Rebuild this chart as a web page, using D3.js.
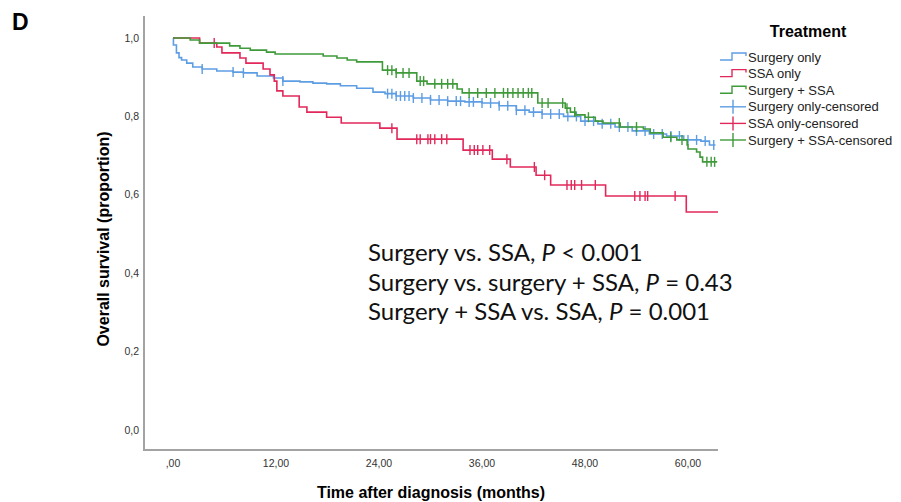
<!DOCTYPE html>
<html>
<head>
<meta charset="utf-8">
<script src="https://cdnjs.cloudflare.com/ajax/libs/d3/7.8.5/d3.min.js"></script>
<style>
  body { margin: 0; background: #fff; }
  svg { display: block; }
</style>
</head>
<body>
<div id="chart"></div>
<script>
// ==========================
// Data
// ==========================

const xTicks = [0, 12, 24, 36, 48, 60];
const xTickLabels = [",00", "12,00", "24,00", "36,00", "48,00", "60,00"];
const yTicks = [0, 0.2, 0.4, 0.6, 0.8, 1.0];
const yTickLabels = ["0,0", "0,2", "0,4", "0,6", "0,8", "1,0"];

// Surgery only
const surgeryTimes = [0, 0.05, 0.4, 0.7, 1.0, 1.6, 2.3, 3.4, 5.1, 7.0, 8.2, 9.8, 11.7, 12.8, 14.8, 16.3, 17.9, 19.5, 21.4, 23.3, 24.7, 26.0, 28.0, 30.0, 32.0, 34.0, 36.0, 38.0, 40.0, 41.5, 43.0, 45.5, 47.5, 49.5, 51.5, 53.5, 55.5, 57.5, 59.5, 61.5, 62.5];
const surgerySurv = [1.0, 0.982, 0.962, 0.950, 0.944, 0.936, 0.926, 0.921, 0.916, 0.913, 0.911, 0.903, 0.898, 0.890, 0.888, 0.885, 0.883, 0.878, 0.872, 0.862, 0.858, 0.852, 0.847, 0.842, 0.839, 0.837, 0.834, 0.827, 0.816, 0.811, 0.806, 0.800, 0.788, 0.781, 0.773, 0.763, 0.755, 0.750, 0.740, 0.737, 0.727];
const surgeryEnd = 63.2;
const surgeryCensor = [3.4, 7.0, 8.2, 12.8, 25.0, 25.5, 26.0, 26.5, 27.0, 27.5, 28.0, 29.0, 30.0, 31.0, 32.0, 33.0, 33.5, 34.5, 35.0, 36.0, 37.0, 38.0, 39.0, 40.0, 41.0, 42.0, 43.0, 44.0, 45.0, 46.0, 47.0, 48.0, 49.0, 50.0, 51.0, 52.0, 53.0, 54.0, 55.0, 56.0, 57.0, 58.0, 59.0, 60.0, 61.0, 62.0, 63.0];

// SSA only
const ssaTimes = [0, 3.1, 5.1, 5.7, 7.8, 8.5, 10.5, 11.3, 11.8, 12.1, 12.8, 14.7, 15.6, 17.9, 19.6, 24.1, 26.1, 33.8, 37.2, 39.3, 42.3, 44.0, 50.4, 59.8];
const ssaSurv = [1.0, 0.987, 0.977, 0.962, 0.949, 0.936, 0.921, 0.906, 0.890, 0.865, 0.852, 0.824, 0.811, 0.798, 0.783, 0.770, 0.742, 0.714, 0.691, 0.671, 0.650, 0.625, 0.597, 0.556];
const ssaEnd = 63.5;
const ssaCensor = [4.8, 25.5, 28.4, 28.8, 29.7, 30.0, 30.5, 31.3, 31.9, 34.6, 35.1, 35.5, 36.1, 36.9, 38.9, 42.1, 43.3, 45.9, 46.4, 46.8, 47.6, 49.2, 53.8, 54.4, 55.0, 55.3, 58.5];

// Surgery + SSA
const comboTimes = [0, 2.0, 3.1, 6.6, 7.8, 9.0, 10.9, 11.9, 17.5, 19.1, 20.3, 21.4, 24.4, 26.0, 28.4, 29.6, 33.1, 33.7, 42.5, 45.7, 46.3, 46.9, 48.0, 49.2, 50.1, 52.1, 54.8, 55.6, 57.1, 58.7, 59.9, 60.0, 61.0, 61.4, 61.7];
const comboSurv = [1.0, 0.995, 0.987, 0.980, 0.974, 0.969, 0.964, 0.959, 0.954, 0.949, 0.944, 0.939, 0.918, 0.911, 0.890, 0.883, 0.870, 0.860, 0.834, 0.821, 0.811, 0.804, 0.798, 0.788, 0.783, 0.773, 0.768, 0.758, 0.747, 0.740, 0.727, 0.717, 0.709, 0.696, 0.684];
const comboEnd = 63.4;
const comboCensor = [25.0, 25.5, 26.0, 26.8, 27.5, 28.8, 29.2, 30.5, 31.3, 32.0, 32.6, 34.5, 35.5, 36.5, 37.5, 38.5, 39.0, 39.6, 40.2, 40.8, 41.4, 41.8, 43.0, 43.7, 45.4, 45.9, 46.8, 48.4, 52.0, 54.0, 58.0, 59.3, 62.2, 62.7, 63.1];

const legendLabels = ["Surgery only", "SSA only", "Surgery + SSA", "Surgery only-censored", "SSA only-censored", "Surgery + SSA-censored"];
const statLines = [
    ["Surgery vs. SSA, ", "P", " < 0.001"],
    ["Surgery vs. surgery + SSA, ", "P", " = 0.43"],
    ["Surgery + SSA vs. SSA, ", "P", " = 0.001"]
];

const groups = [
    { name: "Surgery only", times: surgeryTimes, surv: surgerySurv, end: surgeryEnd, censor: surgeryCensor, color: "#5d9de3" },
    { name: "SSA only", times: ssaTimes, surv: ssaSurv, end: ssaEnd, censor: ssaCensor, color: "#e2285a" },
    { name: "Surgery + SSA", times: comboTimes, surv: comboSurv, end: comboEnd, censor: comboCensor, color: "#3f9a3a" }
];

// ==========================
// SVG Setup
// ==========================

const width = 901;
const height = 502;

const axisX = 144;
const axisY = 450;

const svg = d3.select("#chart").append("svg")
    .attr("width", width)
    .attr("height", height)
    .attr("viewBox", `0 0 ${width} ${height}`);

// ==========================
// Scales
// ==========================

const xScale = d3.scaleLinear()
    .domain([0, 60])
    .range([173, 688]);

const yScale = d3.scaleLinear()
    .domain([0, 1])
    .range([430, 38]);

// ==========================
// Axes (plain lines, no tick marks)
// ==========================

const axisColor = "#a3a3a3";
const labelFont = "Liberation Sans, Arial, sans-serif";

svg.append("line")
    .attr("x1", axisX).attr("x2", axisX)
    .attr("y1", 16).attr("y2", axisY)
    .attr("stroke", axisColor).attr("stroke-width", 2);

svg.append("line")
    .attr("x1", axisX - 1).attr("x2", 718)
    .attr("y1", axisY).attr("y2", axisY)
    .attr("stroke", axisColor).attr("stroke-width", 2);

svg.selectAll(".y-tick")
    .data(yTicks)
    .enter()
    .append("text")
    .attr("class", "y-tick")
    .attr("x", 139)
    .attr("y", d => yScale(d))
    .attr("dy", "0.35em")
    .attr("text-anchor", "end")
    .style("font-family", labelFont)
    .style("font-size", "10.5px")
    .style("fill", "#333")
    .text((d, i) => yTickLabels[i]);

svg.selectAll(".x-tick")
    .data(xTicks)
    .enter()
    .append("text")
    .attr("class", "x-tick")
    .attr("x", d => xScale(d))
    .attr("y", 467)
    .attr("text-anchor", "middle")
    .style("font-family", labelFont)
    .style("font-size", "10.5px")
    .style("fill", "#333")
    .text((d, i) => xTickLabels[i]);

// axis titles
svg.append("text")
    .attr("x", 431)
    .attr("y", 498)
    .attr("text-anchor", "middle")
    .style("font-family", labelFont)
    .style("font-size", "16px")
    .style("font-weight", "bold")
    .text("Time after diagnosis (months)");

svg.append("text")
    .attr("transform", "translate(109,239) rotate(-90)")
    .attr("text-anchor", "middle")
    .style("font-family", labelFont)
    .style("font-size", "16px")
    .style("font-weight", "bold")
    .text("Overall survival (proportion)");

// panel letter
svg.append("text")
    .attr("x", 12)
    .attr("y", 30)
    .style("font-family", labelFont)
    .style("font-size", "23px")
    .style("font-weight", "bold")
    .text("D");

// ==========================
// Survival curves
// ==========================

const line = d3.line()
    .x(d => xScale(d[0]))
    .y(d => yScale(d[1]))
    .curve(d3.curveStepAfter);

function survAt(g, t) {
    let s = g.surv[0];
    g.times.forEach((tt, i) => { if (tt <= t) s = g.surv[i]; });
    return s;
}

groups.forEach(g => {
    const pts = g.times.map((t, i) => [t, g.surv[i]]);
    pts.push([g.end, g.surv[g.surv.length - 1]]);

    svg.append("path")
        .datum(pts)
        .attr("fill", "none")
        .attr("stroke", g.color)
        .attr("stroke-width", 1.6)
        .attr("d", line);

    svg.selectAll(null)
        .data(g.censor)
        .enter()
        .append("line")
        .attr("x1", d => xScale(d))
        .attr("x2", d => xScale(d))
        .attr("y1", d => yScale(survAt(g, d)) - 5)
        .attr("y2", d => yScale(survAt(g, d)) + 5)
        .attr("stroke", g.color)
        .attr("stroke-width", 1.4);
});

// ==========================
// Legend
// ==========================

svg.append("text")
    .attr("x", 808)
    .attr("y", 37)
    .attr("text-anchor", "middle")
    .style("font-family", labelFont)
    .style("font-size", "16px")
    .style("font-weight", "bold")
    .text("Treatment");

const legend = svg.append("g");

legendLabels.forEach((label, i) => {
    const g = groups[i % 3];
    const cy = 57 + i * 16.6;
    const row = legend.append("g");

    if (i < 3) {
        row.append("path")
            .attr("d", `M720,${cy + 3}H732V${cy - 4}H746V${cy - 1}`)
            .attr("fill", "none")
            .attr("stroke", g.color)
            .attr("stroke-width", 1.4);
    } else {
        row.append("line")
            .attr("x1", 720).attr("x2", 746)
            .attr("y1", cy).attr("y2", cy)
            .attr("stroke", g.color).attr("stroke-width", 1.4);
        row.append("line")
            .attr("x1", 733).attr("x2", 733)
            .attr("y1", cy - 7).attr("y2", cy + 7)
            .attr("stroke", g.color).attr("stroke-width", 1.4);
    }

    row.append("text")
        .attr("x", 748)
        .attr("y", cy)
        .attr("dy", "0.35em")
        .style("font-family", labelFont)
        .style("font-size", "13px")
        .style("fill", "#222")
        .text(label);
});

// ==========================
// Statistics annotation
// ==========================

const stats = svg.append("text")
    .attr("x", 368)
    .style("font-family", "Lato, 'Open Sans', sans-serif")
    .style("font-size", "24px")
    .style("fill", "#111");

statLines.forEach((parts, i) => {
    stats.append("tspan")
        .attr("x", 368)
        .attr("y", 261 + i * 29.5)
        .text(parts[0]);
    stats.append("tspan").style("font-style", "italic").text(parts[1]);
    stats.append("tspan").text(parts[2]);
});
</script>
</body>
</html>
